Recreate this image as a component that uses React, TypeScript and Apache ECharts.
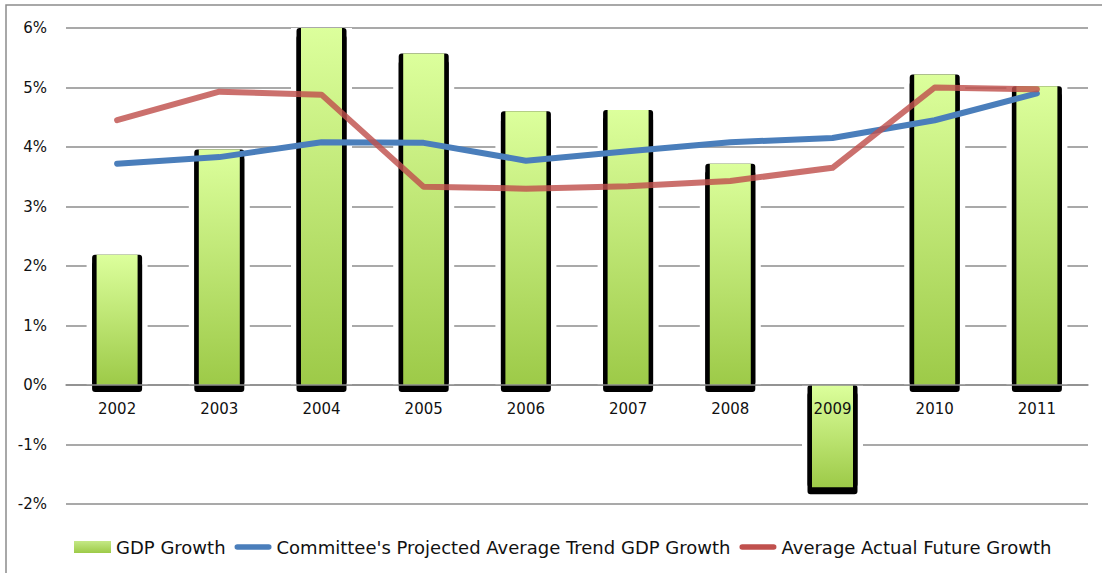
import React, { useEffect, useRef } from "react";
import * as echarts from "echarts";

const years = ["2002", "2003", "2004", "2005", "2006", "2007", "2008", "2009", "2010", "2011"];
const gdpGrowth = [2.19, 3.96, 6.0, 5.57, 4.6, 4.62, 3.72, -1.72, 5.22, 5.02];
const projectedTrend = [3.72, 3.83, 4.08, 4.07, 3.77, 3.93, 4.08, 4.15, 4.45, 4.9];
const actualFuture = [4.45, 4.93, 4.88, 3.33, 3.3, 3.34, 3.43, 3.65, 5.0, 4.97];
const yTicks = { min: -2, max: 6, interval: 1 };

const FONT = "DejaVu Sans";
const LINE_ICON = "path://M0,0 M40,12 M3,3 L37,3 A3,3 0 0 1 37,9 L3,9 A3,3 0 0 1 3,3 Z";

export default function App() {
  const ref = useRef<HTMLDivElement>(null);
  useEffect(() => {
    if (!ref.current) return;
    const chart = echarts.init(ref.current, undefined, { renderer: "svg" });
    const greenGrad = new echarts.graphic.LinearGradient(0, 0, 0, 1, [
      { offset: 0, color: "#dcff9c" },
      { offset: 1, color: "#9dca48" },
    ]);
    const legendGrad = new echarts.graphic.LinearGradient(0, 0, 0, 1, [
      { offset: 0, color: "#c4e886" },
      { offset: 1, color: "#9dca48" },
    ]);
    const gridTop = 28;
    const gridBottom = 69;
    const plotH = 573 - gridTop - gridBottom;
    const zeroOffset = -(plotH * (0 - yTicks.min)) / (yTicks.max - yTicks.min);
    const hiddenX = () => ({
      type: "category",
      data: years,
      show: false,
      gridIndex: 0,
    });
    chart.setOption({
      animation: false,
      textStyle: { fontFamily: FONT },
      graphic: [
        {
          type: "rect",
          shape: { x: 6, y: 5, width: 1110, height: 620 },
          style: { fill: "none", stroke: "#8c8c8c", lineWidth: 1.5 },
          silent: true,
        },
      ],
      grid: { left: 66, right: 14, top: gridTop, bottom: gridBottom, containLabel: false },
      legend: {
        left: 69,
        top: 533,
        itemGap: 9,
        itemWidth: 37,
        itemHeight: 12,
        textStyle: { fontFamily: FONT, fontSize: 18, color: "#111" },
        data: [
          { name: "GDP Growth", icon: "rect", itemStyle: { color: legendGrad } },
          {
            name: "Committee's Projected Average Trend GDP Growth",
            icon: LINE_ICON,
            itemStyle: { color: "#4a7ebb" },
          },
          {
            name: "Average Actual Future Growth",
            icon: LINE_ICON,
            itemStyle: { color: "#c0504d" },
          },
        ],
      },
      xAxis: [
        {
          type: "category",
          data: years,
          offset: zeroOffset,
          axisLine: { show: true, onZero: false, lineStyle: { color: "#8c8c8c", width: 1.5 } },
          axisTick: { show: false },
          axisLabel: { fontFamily: FONT, fontSize: 15, color: "#111", margin: 16 },
          z: 10,
        },
        hiddenX(),
        hiddenX(),
      ],
      yAxis: {
        type: "value",
        min: yTicks.min,
        max: yTicks.max,
        interval: yTicks.interval,
        axisLine: { show: false },
        axisTick: { show: false },
        axisLabel: {
          formatter: "{value}%",
          fontFamily: FONT,
          fontSize: 15,
          color: "#111",
          margin: 19,
        },
        splitLine: { lineStyle: { color: "#8c8c8c", width: 1.5 } },
      },
      series: [
        {
          name: "halo",
          type: "bar",
          xAxisIndex: 2,
          data: gdpGrowth,
          barWidth: 61,
          itemStyle: { color: "#ffffff" },
          z: 1,
          silent: true,
        },
        {
          name: "shadow",
          type: "bar",
          xAxisIndex: 1,
          data: gdpGrowth,
          barWidth: 50,
          itemStyle: {
            color: "#000000",
            borderRadius: 3,
            shadowColor: "#000000",
            shadowBlur: 0,
            shadowOffsetY: 7,
          },
          z: 2,
          silent: true,
        },
        {
          name: "GDP Growth",
          type: "bar",
          xAxisIndex: 0,
          data: gdpGrowth,
          barWidth: 41,
          itemStyle: { color: greenGrad },
          z: 3,
        },
        {
          name: "Committee's Projected Average Trend GDP Growth",
          type: "line",
          data: projectedTrend,
          symbol: "none",
          lineStyle: { color: "#4a7ebb", width: 6, cap: "round", join: "round" },
          itemStyle: { color: "#4a7ebb" },
          z: 4,
        },
        {
          name: "Average Actual Future Growth",
          type: "line",
          data: actualFuture,
          symbol: "none",
          lineStyle: { color: "rgba(192,80,77,0.82)", width: 6, cap: "round", join: "round" },
          itemStyle: { color: "#c0504d" },
          z: 5,
        },
      ],
    });
    return () => chart.dispose();
  }, []);
  return (
    <div
      ref={ref}
      style={{ position: "fixed", left: 0, top: 0, width: 1102, height: 573, background: "#fff" }}
    />
  );
}
